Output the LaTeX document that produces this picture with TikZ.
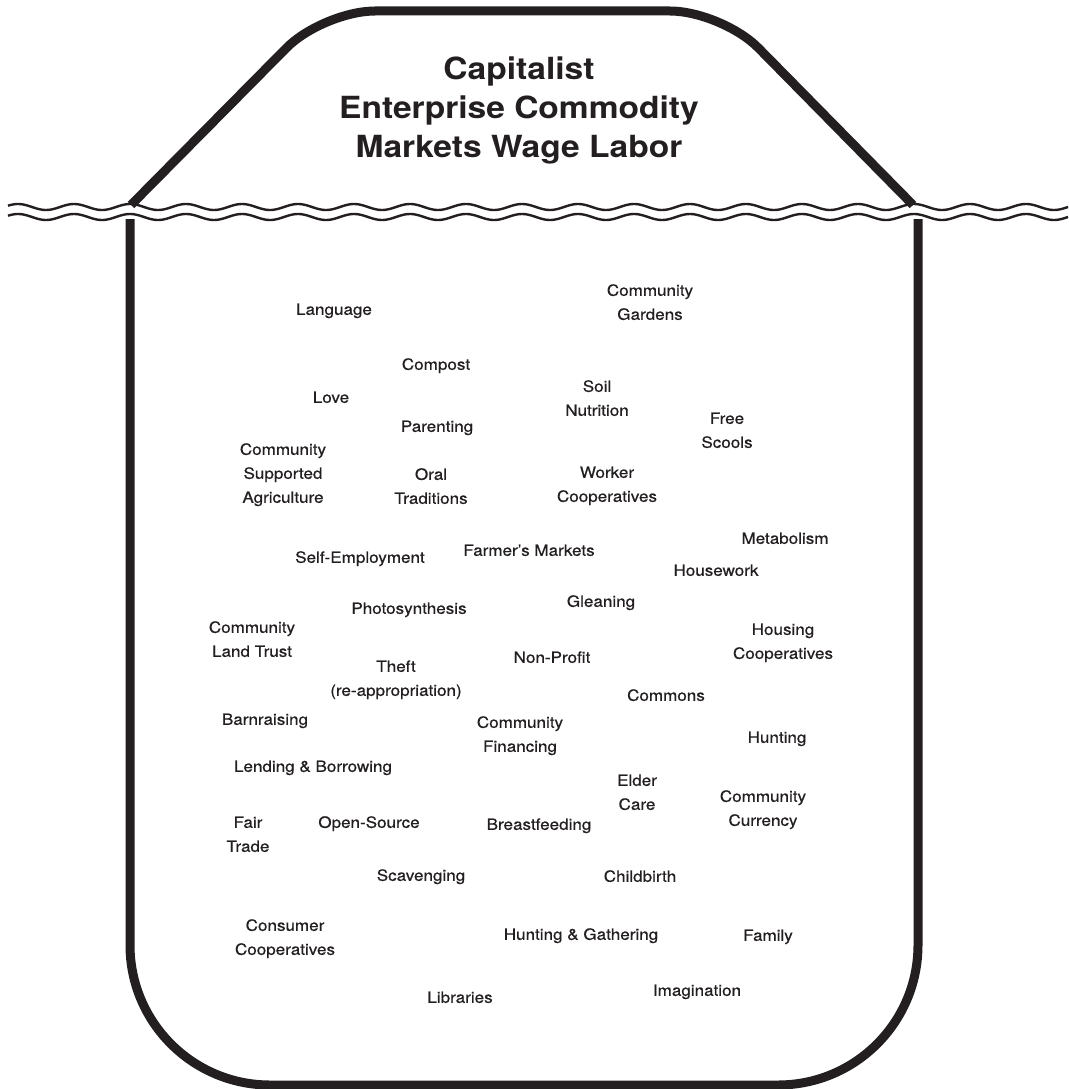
\documentclass[tikz,border=0pt]{standalone}
\usepackage{fontspec}
\newfontfamily\lblfam[FakeStretch=1.1,FakeBold=0.6]{TeX Gyre Heros}
\newfontfamily\ttlfam[FakeStretch=1.1]{TeX Gyre Heros}
\definecolor{ink}{RGB}{35,31,32}
\tikzset{
  lbl/.style={font=\lblfam\fontsize{15.5}{24}\selectfont, align=center, text=ink, inner sep=0pt},
  ttl/.style={font=\ttlfam\bfseries\fontsize{30.5}{39}\selectfont, align=center, text=ink, inner sep=0pt},
  outline/.style={draw=ink, line width=9pt, line join=round},
  wave/.style={draw=ink, line width=2.4pt}
}
\newcommand{\sL}{\strut}
\begin{document}
\begin{tikzpicture}[x=1pt,y=-1pt]
\useasboundingbox (0,0) rectangle (1068,1089);
% iceberg outline above water
\draw[outline, rounded corners=52pt] (131,205) -- (323,11) -- (722,11) -- (913,205);
% iceberg outline below water
\draw[outline, rounded corners=140pt] (130,219) -- (130,1085) -- (918,1085) -- (918,219);
% water line
\draw[wave, domain=8:1068, samples=500, variable=\x] plot (\x, {207-3*cos(6.42857*(\x-130))});
\draw[wave, domain=8:1068, samples=500, variable=\x] plot (\x, {217-3*cos(6.42857*(\x-130))});
% title
\node[ttl] (title) at (519,111) {\strut Capitalist\\\strut Enterprise Commodity\\\strut Markets Wage Labor};
% labels
\begin{scope}[yshift=-4pt]
\node[lbl] (language) at (334,306) {\sL Language};
\node[lbl] (cgardens) at (650,299) {\sL Community\\\sL Gardens};
\node[lbl] (compost) at (436,361) {\sL Compost};
\node[lbl] (love) at (331,394) {\sL Love};
\node[lbl] (soil) at (597,395) {\sL Soil\\\sL Nutrition};
\node[lbl] (parenting) at (437,423) {\sL Parenting};
\node[lbl] (free) at (727,427) {\sL Free\\\sL Scools};
\node[lbl] (csa) at (283,470) {\sL Community\\\sL Supported\\\sL Agriculture};
\node[lbl] (oral) at (431,483) {\sL Oral\\\sL Traditions};
\node[lbl] (worker) at (607,481) {\sL Worker\\\sL Cooperatives};
\node[lbl] (metab) at (785,535) {\sL Metabolism};
\node[lbl] (selfemp) at (360,554) {\sL Self-Employment};
\node[lbl] (farmers) at (529,547) {\sL Farmer’s Markets};
\node[lbl] (housework) at (716,567) {\sL Housework};
\node[lbl] (gleaning) at (601,598) {\sL Gleaning};
\node[lbl] (photo) at (409,605) {\sL Photosynthesis};
\node[lbl] (clt) at (252,636) {\sL Community\\\sL Land Trust};
\node[lbl] (housing) at (783,638) {\sL Housing\\\sL Cooperatives};
\node[lbl] (theft) at (396,675) {\sL Theft\\\sL (re-appropriation)};
\node[lbl] (nonprofit) at (552,654) {\sL Non-Profit};
\node[lbl] (commons) at (666,692) {\sL Commons};
\node[lbl] (barn) at (265,716) {\sL Barnraising};
\node[lbl] (cfin) at (520,731) {\sL Community\\\sL Financing};
\node[lbl] (hunting) at (777,734) {\sL Hunting};
\node[lbl] (lending) at (313,763) {\sL Lending \& Borrowing};
\node[lbl] (elder) at (637,789) {\sL Elder\\\sL Care};
\node[lbl] (ccur) at (763,805) {\sL Community\\\sL Currency};
\node[lbl] (fair) at (248,831) {\sL Fair\\\sL Trade};
\node[lbl] (opensrc) at (369,819) {\sL Open-Source};
\node[lbl] (breast) at (539,821) {\sL Breastfeeding};
\node[lbl] (scav) at (421,872) {\sL Scavenging};
\node[lbl] (childbirth) at (640,873) {\sL Childbirth};
\node[lbl] (consumer) at (285,934) {\sL Consumer\\\sL Cooperatives};
\node[lbl] (hg) at (581,931) {\sL Hunting \& Gathering};
\node[lbl] (family) at (768,932) {\sL Family};
\node[lbl] (libraries) at (460,994) {\sL Libraries};
\node[lbl] (imag) at (697,987) {\sL Imagination};
\end{scope}
\end{tikzpicture}
\end{document}
